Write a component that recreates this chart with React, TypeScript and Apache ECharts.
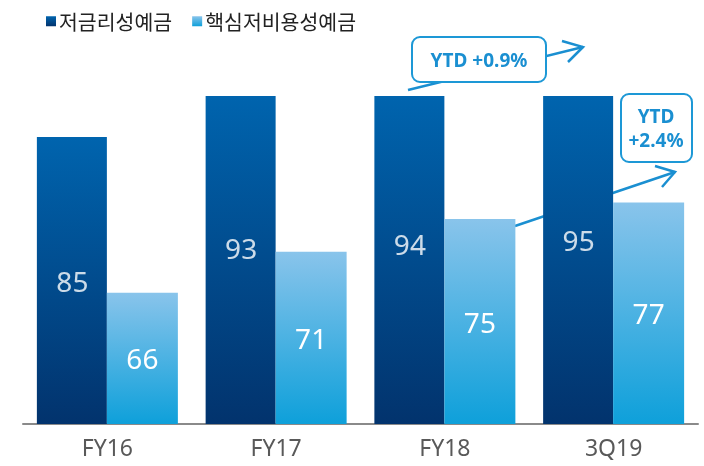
import React, { useEffect, useRef } from "react";
import * as echarts from "echarts";

const categories = ["FY16", "FY17", "FY18", "3Q19"];
const lowRateDeposits = [85, 93, 94, 95];
const coreLowCostDeposits = [66, 71, 75, 77];
const seriesNames = ["저금리성예금", "핵심저비용성예금"];
const Y_MIN = 50;
const Y_MAX = 90;

const FONT = "'Noto Sans CJK KR', 'Noto Sans', sans-serif";

export default function App() {
  const ref = useRef<HTMLDivElement>(null);
  useEffect(() => {
    if (!ref.current) return;
    const chart = echarts.init(ref.current, undefined, { renderer: "svg" });
    const darkGrad = new echarts.graphic.LinearGradient(0, 0, 0, 1, [
      { offset: 0, color: "#0064ae" },
      { offset: 1, color: "#02336d" },
    ]);
    const lightGrad = new echarts.graphic.LinearGradient(0, 0, 0, 1, [
      { offset: 0, color: "#89c4eb" },
      { offset: 1, color: "#0ea0da" },
    ]);
    const blue = "#1a8fd1";
    chart.setOption({
      animation: false,
      legend: {
        data: seriesNames,
        left: 41,
        top: 6,
        icon: "rect",
        itemWidth: 10,
        itemHeight: 10,
        itemGap: 20,
        textStyle: { fontSize: 20.5, color: "#222", fontFamily: FONT, padding: [0, 0, 0, -2] },
      },
      grid: { left: 23, right: 6, top: 96, bottom: 42 },
      xAxis: {
        type: "category",
        data: categories,
        axisLine: { lineStyle: { color: "#8a8a8a", width: 2 } },
        axisTick: { show: false },
        axisLabel: { fontSize: 23, color: "#595959", margin: 11, fontFamily: "'Noto Sans', sans-serif" },
      },
      yAxis: { type: "value", min: Y_MIN, max: Y_MAX, show: false, splitLine: { show: false } },
      series: [
        {
          name: seriesNames[0],
          type: "bar",
          data: lowRateDeposits,
          barWidth: 70,
          barGap: "0%",
          clip: true,
          itemStyle: { color: darkGrad },
          label: { show: false },
        },
        {
          name: seriesNames[1],
          type: "bar",
          data: coreLowCostDeposits,
          barWidth: 71,
          itemStyle: { color: lightGrad },
          label: {
            show: true,
            position: "inside",
            color: "#fff",
            fontSize: 28,
            fontFamily: "'Noto Sans', sans-serif",
          },
        },
        {
          type: "scatter",
          data: lowRateDeposits.map((v, i) => [i, (v + Y_MIN) / 2, v]),
          symbolSize: 0,
          z: 5,
          label: {
            show: true,
            position: "inside",
            offset: [-35, 0],
            color: "#fff",
            fontSize: 28,
            fontFamily: "'Noto Sans', sans-serif",
            formatter: (p: any) => String(p.data[2]),
          },
        },
      ],
      graphic: [
        { type: "line", z: 1, shape: { x1: 408, y1: 90, x2: 583, y2: 47 }, style: { stroke: blue, lineWidth: 2.5 } },
        { type: "polyline", z: 1, shape: { points: [[562, 41], [583, 47], [568, 62]] }, style: { stroke: blue, lineWidth: 2.5, fill: null } },
        { type: "line", z: 1, shape: { x1: 515, y1: 226, x2: 675, y2: 172 }, style: { stroke: blue, lineWidth: 2.5 } },
        { type: "polyline", z: 1, shape: { points: [[655, 166], [675, 172], [662, 187]] }, style: { stroke: blue, lineWidth: 2.5, fill: null } },
        {
          type: "rect", z: 10,
          shape: { x: 412, y: 37, width: 134, height: 45, r: 8 },
          style: { fill: "#fff", stroke: "#1d98d6", lineWidth: 2 },
        },
        {
          type: "text", z: 11, x: 479, y: 60,
          style: { text: "YTD +0.9%", fill: blue, font: "bold 19px 'Noto Sans', sans-serif", align: "center", verticalAlign: "middle" },
        },
        {
          type: "rect", z: 10,
          shape: { x: 621, y: 94, width: 71, height: 68, r: 8 },
          style: { fill: "#fff", stroke: "#1d98d6", lineWidth: 2 },
        },
        {
          type: "text", z: 11, x: 656, y: 128,
          style: { text: "YTD\n+2.4%", fill: blue, font: "bold 19px 'Noto Sans', sans-serif", lineHeight: 24, align: "center", verticalAlign: "middle" },
        },
      ],
    });
    return () => chart.dispose();
  }, []);
  return <div ref={ref} style={{ position: "fixed", left: 0, top: 0, width: 704, height: 466 }} />;
}
